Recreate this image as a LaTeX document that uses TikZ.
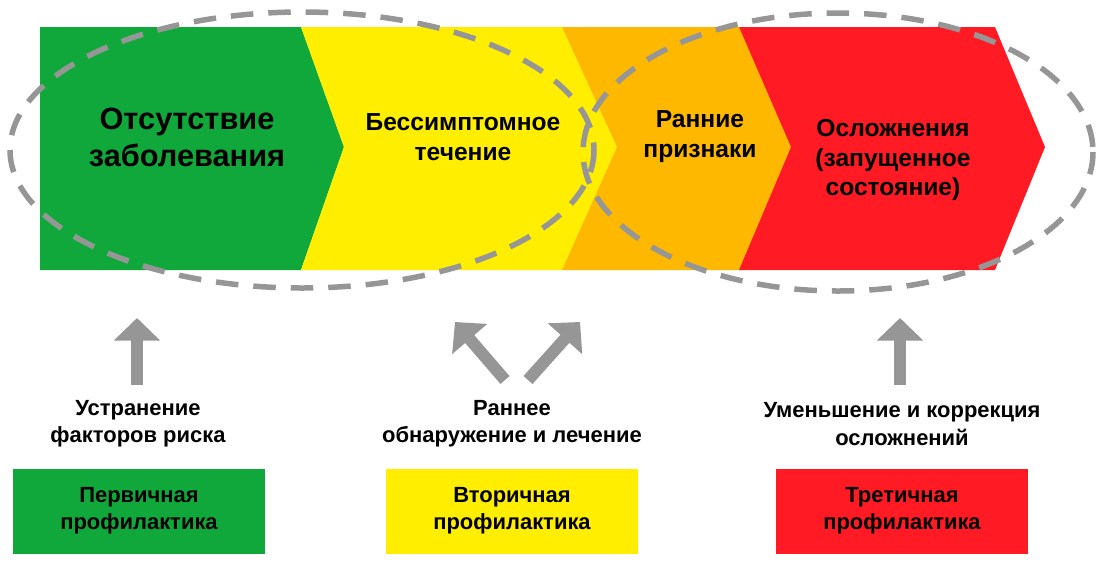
\documentclass[tikz,border=0pt]{standalone}
\usepackage{fontspec}
\setmainfont{Liberation Sans}
\usetikzlibrary{arrows.meta}
\definecolor{stgreen}{RGB}{16,168,58}
\definecolor{styellow}{RGB}{255,238,0}
\definecolor{storange}{RGB}{255,184,0}
\definecolor{stred}{RGB}{255,26,36}
\definecolor{stgray}{RGB}{150,150,150}
\tikzset{
  stagetext/.style={font=\bfseries\fontsize{14}{17}\selectfont, align=center},
  bigtext/.style={font=\bfseries\fontsize{17.5}{21}\selectfont, align=center},
  lowtext/.style={font=\bfseries\fontsize{12.5}{15.5}\selectfont, align=center},
  kindbox/.style={minimum width=5.06cm, minimum height=1.7cm, inner sep=0pt,
    font=\bfseries\fontsize{12.5}{15.5}\selectfont, align=center},
  uparrow/.style={draw=none, fill=stgray},
  ring/.style={draw=stgray, line width=1.1mm, dash pattern=on 4.5mm off 3mm}
}
\begin{document}
\begin{tikzpicture}[x=0.02cm, y=-0.02cm]
  \useasboundingbox (0,0) rectangle (1100,569);

  % stages
  \fill[stgreen] (40,27) -- (301,27) -- (344,147) -- (301,270) -- (40,270) -- cycle;
  \fill[styellow] (301,27) -- (562,27) -- (617,147) -- (562,270) -- (301,270) -- (344,147) -- cycle;
  \fill[storange] (562,27) -- (739,27) -- (791,147) -- (739,270) -- (562,270) -- (617,147) -- cycle;
  \fill[stred] (739,27) -- (995,27) -- (1045,147) -- (995,270) -- (739,270) -- (791,147) -- cycle;

  \node[bigtext] (healthy) at (187,137) {Отсутствие\\заболевания};
  \node[stagetext] (latent) at (463,137) {Бессимптомное\\течение};
  \node[stagetext] (early) at (700,137) {Ранние\\признаки};
  \node[stagetext] (late) at (893,160) {Осложнения\\(запущенное\\состояние)};

  % rings
  \draw[ring] (302,150) ellipse (292 and 138);
  \draw[ring] (838,152) ellipse (255 and 139);

  % arrows
  \coordinate (a1) at (137,385);
  \coordinate (a1e) at (137,318);
  \coordinate (a2) at (505,380);
  \coordinate (a2e) at (455,322);
  \coordinate (a3) at (528,380);
  \coordinate (a3e) at (580,322);
  \coordinate (a4) at (900,385);
  \coordinate (a4e) at (900,318);
  \foreach \s/\e in {a1/a1e, a2/a2e, a3/a3e, a4/a4e}
    \draw[stgray, line width=2.4mm, -{Triangle[length=4.5mm, width=9mm]}] (\s) -- (\e);

  % labels
  \node[lowtext] (risk) at (138,424) {Устранение\\факторов риска};
  \node[lowtext] (detect) at (512,424) {Раннее\\обнаружение и лечение};
  \node[lowtext] (fix) at (902,424) {Уменьшение и коррекция\\осложнений};

  \node[kindbox, fill=stgreen] (first) at (139,511) {Первичная\\профилактика};
  \node[kindbox, fill=styellow] (second) at (512,511) {Вторичная\\профилактика};
  \node[kindbox, fill=stred] (third) at (902,511) {Третичная\\профилактика};
\end{tikzpicture}
\end{document}
